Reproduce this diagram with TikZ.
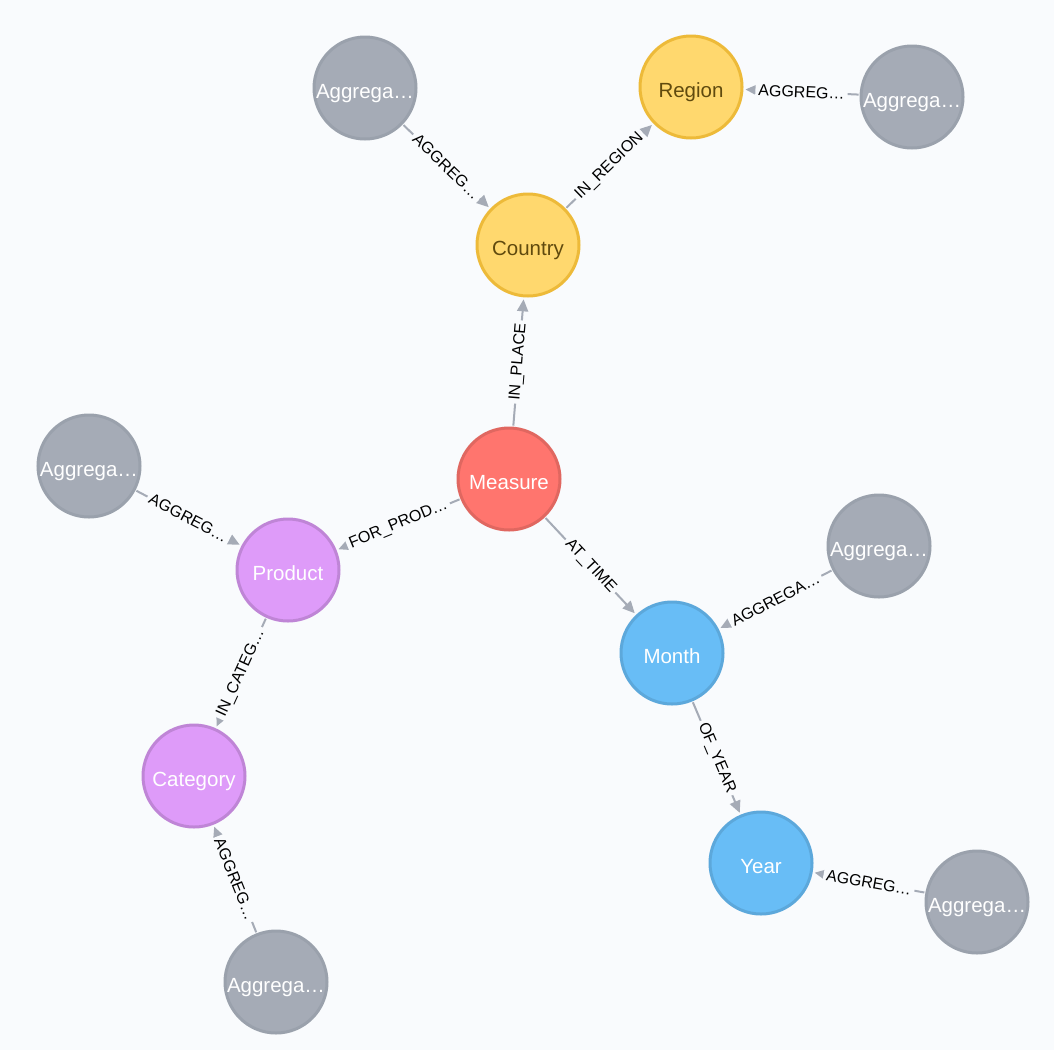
\documentclass[tikz,border=0pt]{standalone}
\usepackage{fontspec}
\setmainfont{Liberation Sans}
\usetikzlibrary{arrows.meta}
\definecolor{bg}{HTML}{F9FBFD}
\definecolor{aggfill}{HTML}{A5ABB6}
\definecolor{aggline}{HTML}{9AA1AC}
\definecolor{yelfill}{HTML}{FFD86E}
\definecolor{yelline}{HTML}{EDBA39}
\definecolor{yeltext}{HTML}{604A0E}
\definecolor{redfill}{HTML}{FF756E}
\definecolor{redline}{HTML}{E06760}
\definecolor{purfill}{HTML}{DE9BF9}
\definecolor{purline}{HTML}{BF85D6}
\definecolor{blufill}{HTML}{68BDF6}
\definecolor{bluline}{HTML}{5CA8DB}
\definecolor{edge}{HTML}{A5ABB6}
\begin{document}
\begin{tikzpicture}[x=1pt,y=-1pt,
  nd/.style={circle,minimum size=102pt,inner sep=0pt,line width=3pt,text height=21pt,text depth=0pt,font=\fontsize{20.5}{21}\selectfont},
  agg/.style={nd,fill=aggfill,draw=aggline,text=white},
  yel/.style={nd,fill=yelfill,draw=yelline,text=yeltext},
  red/.style={nd,fill=redfill,draw=redline,text=white},
  pur/.style={nd,fill=purfill,draw=purline,text=white},
  blu/.style={nd,fill=blufill,draw=bluline,text=white},
  rel/.style={draw=edge,line width=2pt,-{Triangle[length=12pt,width=11pt]},shorten >=2pt,shorten <=1pt},
  lbl/.style={midway,sloped,fill=bg,inner sep=3pt,font=\fontsize{16}{16}\selectfont,text=black}]
\fill[bg] (0,0) rectangle (1054,1050);
\useasboundingbox (0,0) rectangle (1054,1050);

\node[agg] (aggtl) at (365,88) {Aggrega…};
\node[yel] (region) at (691,87) {Region};
\node[agg] (aggtr) at (912,97) {Aggrega…};
\node[yel] (country) at (528,245) {Country};
\node[agg] (aggl) at (89,466) {Aggrega…};
\node[red] (measure) at (509,479) {Measure};
\node[pur] (product) at (288,570) {Product};
\node[agg] (aggr) at (879,546) {Aggrega…};
\node[blu] (month) at (672,653) {Month};
\node[pur] (category) at (194,776) {Category};
\node[blu] (year) at (761,863) {Year};
\node[agg] (aggbr) at (977,902) {Aggrega…};
\node[agg] (aggb) at (276,982) {Aggrega…};

\draw[rel] (aggtl) -- node[lbl]{AGGREG…} (country);
\draw[rel] (country) -- node[lbl]{IN\_REGION} (region);
\draw[rel] (aggtr) -- node[lbl]{AGGREG…} (region);
\draw[rel] (measure) -- node[lbl]{IN\_PLACE} (country);
\draw[rel] (measure) -- node[lbl]{FOR\_PROD…} (product);
\draw[rel] (measure) -- node[lbl]{AT\_TIME} (month);
\draw[rel] (aggl) -- node[lbl]{AGGREG…} (product);
\draw[rel] (product) -- node[lbl]{IN\_CATEG…} (category);
\draw[rel] (aggb) -- node[lbl]{AGGREG…} (category);
\draw[rel] (aggr) -- node[lbl]{AGGREGA…} (month);
\draw[rel] (month) -- node[lbl]{OF\_YEAR} (year);
\draw[rel] (aggbr) -- node[lbl]{AGGREG…} (year);
\end{tikzpicture}
\end{document}
